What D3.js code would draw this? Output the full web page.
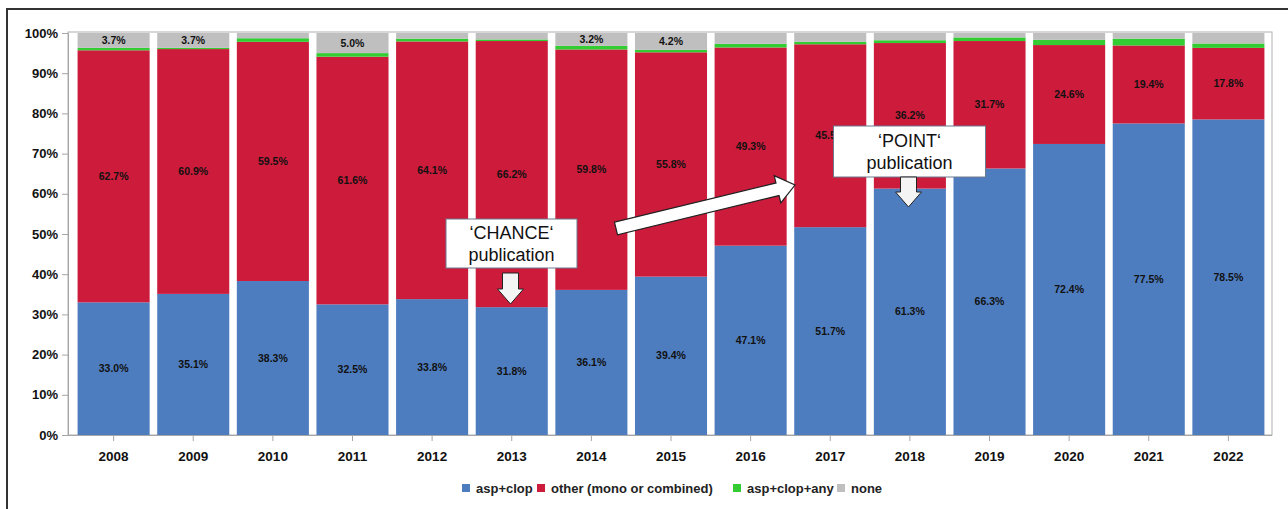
<!DOCTYPE html>
<html><head><meta charset="utf-8">
<script src="https://cdn.jsdelivr.net/npm/d3@7"></script>
<style>
html,body{margin:0;padding:0;background:#fff;}
svg{display:block;}
</style></head>
<body><svg id="c" width="1288" height="509"></svg>
<script>
const years = ["2008","2009","2010","2011","2012","2013","2014","2015","2016","2017","2018","2019","2020","2021","2022"];
const aspClop   = [33.0,35.1,38.3,32.5,33.8,31.8,36.1,39.4,47.1,51.7,61.3,66.3,72.4,77.5,78.5];
const other     = [62.7,60.9,59.5,61.6,64.1,66.2,59.8,55.8,49.3,45.5,36.2,31.7,24.6,19.4,17.8];
const aspClopAny= [0.6,0.3,0.9,0.9,0.7,0.4,0.9,0.6,0.9,0.6,0.7,0.9,1.3,1.7,1.1];
const none      = [3.7,3.7,1.3,5.0,1.4,1.6,3.2,4.2,2.7,2.2,1.8,1.1,1.7,1.4,2.6];
const noneLabelShown = [true,true,false,true,false,false,true,true,false,false,false,false,false,false,false];
const seriesNames = ["asp+clop","other (mono or combined)","asp+clop+any","none"];
const seriesColors = ["#4E7DBF","#CC1B3B","#33CC33","#BFBFBF"];
const yTicks = [0,10,20,30,40,50,60,70,80,90,100];

const svg = d3.select("#c");
const font = "'Liberation Sans', Arial, sans-serif";

// outer frame
svg.append("rect").attr("x",7).attr("y",9).attr("width",1400).attr("height",700)
  .attr("fill","none").attr("stroke","#333").attr("stroke-width",2);

const plot = {l:68, r:1272, t:33, b:435};
const x = d3.scaleBand().domain(years).range([74,1268]).paddingInner(0.095).paddingOuter(0.045);
const y = d3.scaleLinear().domain([0,100]).range([plot.b, plot.t]);

// plot border
svg.append("rect").attr("x",plot.l).attr("y",plot.t-1).attr("width",plot.r-plot.l).attr("height",plot.b-plot.t+1)
  .attr("fill","none").attr("stroke","#b0b0b0").attr("stroke-width",1);

const seriesArr = [aspClop, other, aspClopAny, none];
const rows = years.map((yr,i)=>({year:yr, s0:aspClop[i], s1:other[i], s2:aspClopAny[i], s3:none[i]}));
const stack = d3.stack().keys(["s0","s1","s2","s3"])(rows);

stack.forEach((layer,k)=>{
  svg.append("g").selectAll("rect").data(layer).join("rect")
    .attr("x",d=>x(d.data.year))
    .attr("width",x.bandwidth())
    .attr("y",d=>y(Math.min(100,d[1])))
    .attr("height",d=>y(d[0])-y(Math.min(100,d[1])))
    .attr("fill",seriesColors[k]);
});

// value labels
const lab = svg.append("g").attr("font-family",font).attr("font-weight","bold").attr("font-size","10.5px")
  .attr("fill","#111").attr("text-anchor","middle");
[0,1].forEach(k=>{
  stack[k].forEach((d,i)=>{
    lab.append("text").attr("x",x(years[i])+x.bandwidth()/2).attr("y",y((d[0]+d[1])/2)+3.5)
      .text(seriesArr[k][i].toFixed(1)+"%");
  });
});
stack[3].forEach((d,i)=>{
  if(!noneLabelShown[i]) return;
  lab.append("text").attr("x",x(years[i])+x.bandwidth()/2).attr("y",y((d[0]+Math.min(100,d[1]))/2)+4)
    .text(none[i].toFixed(1)+"%");
});

// axes
const yAxis = svg.append("g").attr("transform",`translate(${plot.l},0)`)
  .call(d3.axisLeft(y).tickValues(yTicks).tickSize(6).tickPadding(4).tickFormat(d=>d+"%"));
const xAxis = svg.append("g").attr("transform",`translate(0,${plot.b})`)
  .call(d3.axisBottom(x).tickSize(6).tickPadding(10));
xAxis.select(".domain").remove();
svg.append("line").attr("x1",plot.l).attr("x2",plot.r).attr("y1",plot.b+0.5).attr("y2",plot.b+0.5).attr("stroke","#a6a6a6");
[yAxis,xAxis].forEach(a=>{
  a.selectAll("text").attr("font-family",font).attr("font-weight","bold").attr("font-size","13px").attr("fill","#111");
  a.selectAll("line").attr("stroke","#a6a6a6");
  a.selectAll(".domain").attr("stroke","#a6a6a6");
});
xAxis.selectAll("text").attr("font-size","13.5px");

// legend
const legend = svg.append("g").attr("font-family",font).attr("font-weight","bold").attr("font-size","13px").attr("fill","#222");
const legX = [462,537,733,837];
seriesNames.forEach((n,k)=>{
  legend.append("rect").attr("x",legX[k]).attr("y",484).attr("width",8).attr("height",8).attr("fill",seriesColors[k]);
  legend.append("text").attr("x",legX[k]+14).attr("y",493).text(n);
});

// annotations
function box(cx, top, w, h, l1, l2, b1, b2){
  const g = svg.append("g");
  g.append("rect").attr("x",cx-w/2).attr("y",top).attr("width",w).attr("height",h)
    .attr("fill","#fff").attr("stroke","#6c7a8c").attr("stroke-width",1);
  g.append("text").attr("x",cx).attr("y",b1).attr("text-anchor","middle").attr("font-family",font)
    .attr("font-size","18px").attr("fill","#111").text(l1);
  g.append("text").attr("x",cx).attr("y",b2).attr("text-anchor","middle").attr("font-family",font)
    .attr("font-size","18px").attr("fill","#111").text(l2);
}
function downArrow(cx, top, bottom){
  const sw=8, hw=13, hl=15;
  const pts = [[cx-sw,top],[cx+sw,top],[cx+sw,bottom-hl],[cx+hw,bottom-hl],[cx,bottom],[cx-hw,bottom-hl],[cx-sw,bottom-hl]];
  svg.append("polygon").attr("points",pts.map(p=>p.join(",")).join(" "))
    .attr("fill","#f4f4f4").attr("stroke","#222").attr("stroke-width",1);
}
box(511.5, 219, 131, 49, "\u2018CHANCE\u2018", "publication", 239, 261);
downArrow(510.5, 273, 304);
box(909.5, 126, 152, 51, "\u2018POINT\u2018", "publication", 147, 169);
downArrow(908.5, 177, 207);

// big arrow
(function(){
  const x0=616, y0=228.5, x1=795, y1=185;
  const L = Math.hypot(x1-x0,y1-y0);
  const ang = Math.atan2(y1-y0,x1-x0)*180/Math.PI;
  const sw=6.5, hw=14, hl=18;
  const pts=[[0,-sw],[L-hl,-sw],[L-hl,-hw],[L,0],[L-hl,hw],[L-hl,sw],[0,sw]];
  svg.append("polygon").attr("transform",`translate(${x0},${y0}) rotate(${ang})`)
    .attr("points",pts.map(p=>p.join(",")).join(" "))
    .attr("fill","#fff").attr("stroke","#222").attr("stroke-width",1.2);
})();
</script></body></html>
